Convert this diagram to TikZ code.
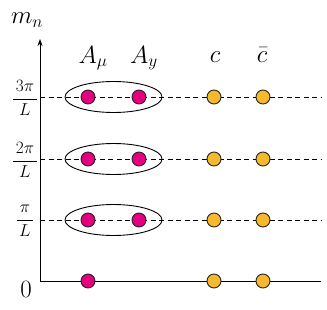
\documentclass[tikz,border=0pt]{standalone}
\definecolor{gaugepink}{RGB}{228,0,127}
\definecolor{ghostorange}{RGB}{248,184,44}
\usepackage{amsmath,amssymb}
\usetikzlibrary{arrows.meta,positioning,calc,shapes.geometric}

\begin{document}
\begin{tikzpicture}[x=1pt,y=1pt,
        gaugedot/.style={circle, draw=black!85, line width=0.9pt, fill=gaugepink, inner sep=0pt, minimum size=14pt},
        ghostdot/.style={gaugedot, fill=ghostorange},
        level/.style={dash pattern=on 5pt off 3.5pt, line width=0.6pt},
        pair/.style={ellipse, draw, line width=0.9pt, minimum width=97pt, minimum height=31pt, inner sep=0pt},
        fieldlabel/.style={font=\fontsize{25}{28}\selectfont, anchor=base},
        ticklabel/.style={font=\fontsize{17}{19}\selectfont, inner sep=0pt}]
            \useasboundingbox (0,0) rectangle (327,309);
            % axes
            \coordinate (origin) at (40,28);
            \coordinate (ytop) at (40,270);
            \coordinate (xend) at (321,28);
            \draw[line width=0.8pt, -{Stealth[length=7pt,width=5pt]}] (origin) -- (ytop);
            \draw[line width=0.8pt] (origin) -- (xend);
            \node[font=\fontsize{26}{29}\selectfont] (mlabel) at (27,289) {$m_n$};
            \node[font=\fontsize{24}{27}\selectfont] (zero) at (26,20) {$0$};
            % excited levels
            \foreach \n/\y/\lab in {1/89/{\pi}, 2/150/{2\pi}, 3/212/{3\pi}} {
                \coordinate (left\n) at (40,\y);
                \coordinate (right\n) at (321,\y);
                \draw[level] (left\n) -- (right\n);
                \node[ticklabel] (tick\n) at (25,\y-1) {$\displaystyle\frac{\,\lab\,}{L}$};
                \node[pair] (pair\n) at (113.5,\y) {};
                \node[gaugedot] (amu\n) at (88,\y) {};
                \node[gaugedot] (ay\n) at (139,\y) {};
                \node[ghostdot] (c\n) at (214,\y) {};
                \node[ghostdot] (cbar\n) at (263,\y) {};
            }
            % zero modes
            \node[gaugedot] (amu0) at (88,28) {};
            \node[ghostdot] (c0) at (214,28) {};
            \node[ghostdot] (cbar0) at (263,28) {};
            % field labels
            \node[fieldlabel] (amulabel) at (93,246) {$A_\mu$};
            \node[fieldlabel] (aylabel) at (144,246) {$A_y$};
            \node[fieldlabel] (clabel) at (215,247) {$c$};
            \node[fieldlabel] (cbarlabel) at (262,247) {$\bar c$};
        \end{tikzpicture}
\end{document}
